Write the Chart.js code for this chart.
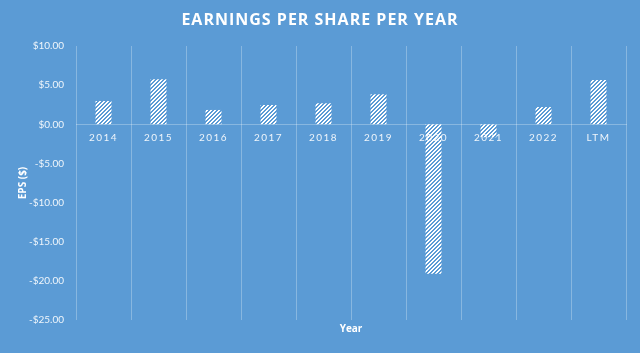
<!DOCTYPE html>
<html>
<head>
<meta charset="utf-8">
<script src="https://cdn.jsdelivr.net/npm/chart.js@4.4.0/dist/chart.umd.min.js"></script>
<style>
  html, body { margin: 0; padding: 0; background: #5B9BD5; }
  canvas { display: block; }
</style>
</head>
<body>
<canvas id="c" width="640" height="353"></canvas>
<script>
const categories = ['2014', '2015', '2016', '2017', '2018', '2019', '2020', '2021', '2022', 'LTM'];
const epsValues = [2.97, 5.75, 1.83, 2.46, 2.68, 3.83, -19.1, -1.66, 2.2, 5.66];
const yMin = -25, yMax = 10, yStep = 5;
const titleText = 'EARNINGS PER SHARE PER YEAR';
const yTitle = 'EPS ($)';
const xTitle = 'Year';

const BG = '#5B9BD5';

function makePattern() {
  const p = document.createElement('canvas');
  p.width = 4; p.height = 4;
  const pc = p.getContext('2d');
  const img = pc.createImageData(4, 4);
  for (let y = 0; y < 4; y++) {
    for (let x = 0; x < 4; x++) {
      const on = ((x + y) % 4) < 2;
      const i = (y * 4 + x) * 4;
      img.data[i] = 255; img.data[i + 1] = 255; img.data[i + 2] = 255;
      img.data[i + 3] = on ? 255 : 0;
    }
  }
  pc.putImageData(img, 0, 0);
  return document.getElementById('c').getContext('2d').createPattern(p, 'repeat');
}

class SpacedCategoryScale extends Chart.CategoryScale {
  draw(chartArea) {
    const ctx = this.ctx;
    ctx.save();
    ctx.letterSpacing = '1.5px';
    super.draw(chartArea);
    ctx.restore();
  }
}
SpacedCategoryScale.id = 'spacedCategory';
SpacedCategoryScale.defaults = Chart.CategoryScale.defaults;

class PlainCategoryScale extends Chart.CategoryScale {
  draw(chartArea) {
    const ctx = this.ctx;
    ctx.save();
    ctx.letterSpacing = '0px';
    super.draw(chartArea);
    ctx.restore();
  }
}
PlainCategoryScale.id = 'plainCategory';
PlainCategoryScale.defaults = Chart.CategoryScale.defaults;

class PlainLinearScale extends Chart.LinearScale {
  draw(chartArea) {
    const ctx = this.ctx;
    ctx.save();
    ctx.letterSpacing = '0px';
    super.draw(chartArea);
    ctx.restore();
  }
}
PlainLinearScale.id = 'plainLinear';
PlainLinearScale.defaults = Chart.LinearScale.defaults;

Chart.register(SpacedCategoryScale, PlainCategoryScale, PlainLinearScale);

const bgPlugin = {
  id: 'bg',
  beforeDraw(chart) {
    const ctx = chart.ctx;
    ctx.save();
    ctx.fillStyle = BG;
    ctx.fillRect(0, 0, chart.width, chart.height);
    ctx.restore();
  }
};

const titleSpacing = {
  id: 'titleSpacing',
  beforeDraw(chart) { chart.ctx.letterSpacing = '1px'; },
  beforeDatasetsDraw(chart) { chart.ctx.letterSpacing = '0px'; }
};

const labelColor = 'rgba(255,255,255,0.9)';
const gridColor = 'rgba(255,255,255,0.28)';

const chart = new Chart(document.getElementById('c'), {
  type: 'bar',
  data: {
    labels: categories,
    datasets: [{
      label: 'EPS',
      data: epsValues,
      backgroundColor: makePattern(),
      borderWidth: 0,
      barPercentage: 0.29,
      categoryPercentage: 1.0,
      xAxisID: 'x',
      yAxisID: 'y'
    }]
  },
  options: {
    responsive: false,
    animation: false,
    layout: { padding: 0 },
    plugins: {
      legend: { display: false },
      tooltip: { enabled: false },
      title: {
        display: true,
        text: titleText,
        color: '#ffffff',
        font: { family: 'Open Sans', size: 16, weight: 'bold', lineHeight: 1.2 },
        padding: { top: 10.4, bottom: 16.4 }
      }
    },
    scales: {
      x: {
        type: 'spacedCategory',
        position: { y: 0 },
        offset: true,
        grid: { display: true, color: gridColor, offset: true, drawTicks: false, lineWidth: 1 },
        border: { display: true, color: gridColor, width: 1 },
        ticks: {
          color: labelColor,
          font: { family: 'Lato', size: 10 },
          padding: 7,
          maxRotation: 0,
          autoSkip: false
        }
      },
      x2: {
        type: 'plainCategory',
        labels: categories,
        position: 'bottom',
        grid: { display: false, drawTicks: false },
        border: { display: false },
        ticks: { display: false },
        title: {
          display: true,
          text: xTitle,
          color: '#ffffff',
          font: { family: 'Open Sans', size: 10, weight: 'bold', lineHeight: 1.2 },
          padding: { top: 0, bottom: 18 }
        },
        afterFit(scale) { scale.height = 33; }
      },
      y: {
        type: 'plainLinear',
        min: yMin,
        max: yMax,
        grid: { display: false, drawTicks: false },
        border: { display: false },
        ticks: {
          stepSize: yStep,
          color: labelColor,
          font: { family: 'Lato', size: 10 },
          padding: 12,
          callback: (v) => (v < 0 ? '-$' : '$') + Math.abs(v).toFixed(2)
        },
        title: {
          display: true,
          text: yTitle,
          color: '#ffffff',
          font: { family: 'Open Sans', size: 10, weight: 'bold', lineHeight: 1.2 },
          padding: { top: 17, bottom: 0 }
        },
        afterFit(scale) { scale.width = 76; }
      },
      yRight: {
        type: 'plainLinear',
        position: 'right',
        min: yMin,
        max: yMax,
        grid: { display: false, drawTicks: false },
        border: { display: false },
        ticks: { display: false },
        afterFit(scale) { scale.width = 14; }
      }
    }
  },
  plugins: [bgPlugin, titleSpacing]
});
</script>
</body>
</html>
